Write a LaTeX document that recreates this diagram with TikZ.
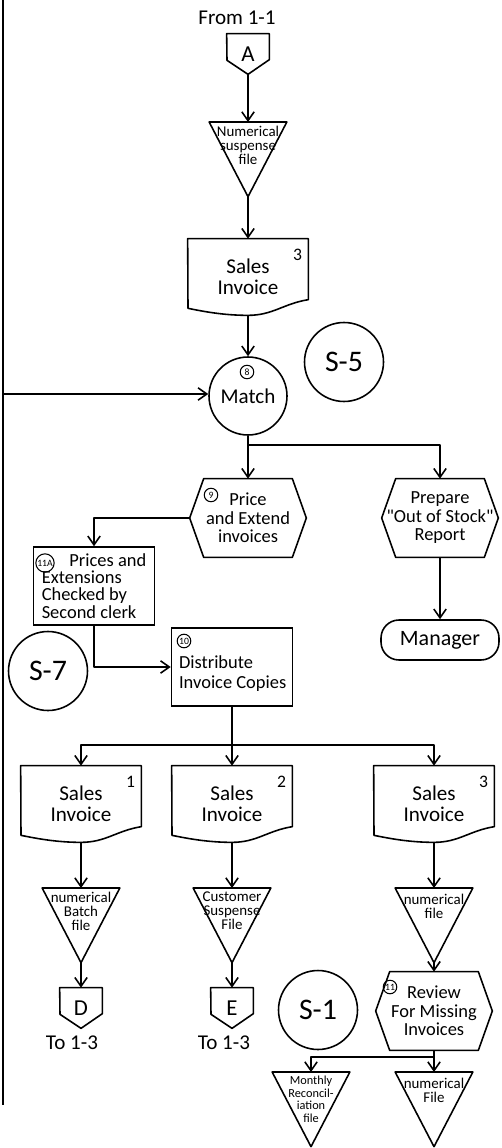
\documentclass[tikz,border=0pt]{standalone}
\usepackage{fontspec}
\setmainfont{Carlito}
\usetikzlibrary{arrows.meta, positioning}
\tikzset{
  flowline/.style  = {draw, line width=0.9pt, line join=round},
  flowarrow/.style = {flowline, -{Straight Barb[length=5pt, width=7pt]}},
  shapeline/.style = {draw, line width=0.9pt, line join=round},
  docbox/.style    = {minimum width=2.4cm, minimum height=1.52cm, inner sep=0pt,
                      align=center, font=\fontsize{12}{12}\selectfont},
  copyno/.style    = {font=\fontsize{10}{10}\selectfont, inner sep=0pt},
  hexbox/.style    = {minimum width=2.32cm, minimum height=1.56cm, inner sep=0pt,
                      align=center, font=\fontsize{10.5}{10.5}\selectfont},
  procbox/.style   = {draw, line width=0.9pt, minimum width=2.42cm,
                      minimum height=1.56cm, inner sep=1pt, align=left,
                      font=\fontsize{10.5}{9.8}\selectfont},
  proctext/.style  = {inner sep=0pt, align=left, font=\fontsize{10.5}{11.5}\selectfont},
  filetri/.style   = {minimum width=1.54cm, minimum height=1.48cm, inner sep=0pt},
  filetext/.style  = {font=\fontsize{8.5}{8}\selectfont, align=center, inner sep=0pt},
  offpage/.style   = {minimum width=0.84cm, minimum height=0.8cm, inner sep=0pt,
                      font=\fontsize{13}{13}\selectfont},
  matchcirc/.style = {circle, draw, line width=0.9pt, minimum size=1.56cm,
                      inner sep=0pt, font=\fontsize{12}{12}\selectfont},
  segcirc/.style   = {circle, draw, line width=0.9pt, minimum size=1.58cm,
                      inner sep=0pt, font=\fontsize{17}{17}\selectfont},
  stepnum/.style   = {circle, draw, line width=0.6pt, minimum size=0.27cm,
                      inner sep=0.4pt, font=\fontsize{5.5}{5.5}\selectfont},
  endterm/.style   = {draw, line width=0.9pt, rounded corners=0.36cm,
                      minimum width=2.36cm, minimum height=0.8cm,
                      font=\fontsize{12.5}{12.5}\selectfont},
  pagenote/.style  = {font=\fontsize{12}{12}\selectfont, inner sep=0pt},
}
\begin{document}
\begin{tikzpicture}[x=0.02cm, y=-0.02cm]
  \useasboundingbox (0,0) rectangle (501,1148);
  \coordinate (railtop) at (3,0);
  \coordinate (railbot) at (3,1105);
  \coordinate (feed) at (3,394);
  \draw[flowline] (railtop) -- (railbot);

  % from 1-1 down to the match
  \node[pagenote] (from) at (237,18) {From 1-1};
  \node[offpage] (pa) at (248,54) {A};
  \node[filetri, anchor=north] (nsf) at (248,122) {};
  \node[filetext, below=2pt of nsf.north] (nsft) {Numerical\\suspense\\file};
  \node[docbox] (sinv) at (248,277) {Sales\\Invoice};
  \node[copyno, below left=0.2cm and 0.12cm of sinv.north east] (sinvno) {3};
  \node[matchcirc] (match) at (248,396) {Match};
  \node[stepnum] (s8) at (247,372) {8};
  \node[segcirc] (s5) at (344,362) {S-5};

  % pricing and checking
  \coordinate (fork1) at (248,445);
  \node[hexbox] (price) at (248,518) {Price\\and Extend\\invoices};
  \node[stepnum] (s9) at (211,495) {9};
  \node[hexbox] (prep) at (440,518)
    {Prepare\\\textquotedbl Out of Stock\textquotedbl\\Report};
  \node[endterm] (mgr) at (440,640) {Manager};
  \node[procbox] (chk) at (94,586)
    {\hspace*{1.5em}Prices and\\Extensions\\Checked by\\Second clerk};
  \node[stepnum] (s11a) at (45,563) {11A};
  \node[segcirc] (s7) at (48,671) {S-7};
  \node[procbox] (dist) at (232,667) {};
  \node[proctext, below right=0.56cm and 0.16cm of dist.north west] (distt)
    {Distribute\\Invoice Copies};
  \node[stepnum] (s10) at (184,641) {10};

  % three copies
  \coordinate (fork2) at (232,745);
  \node[docbox] (sinva) at (81,804) {Sales\\Invoice};
  \node[docbox] (sinvb) at (232,804) {Sales\\Invoice};
  \node[docbox] (sinvc) at (434,804) {Sales\\Invoice};
  \node[copyno, below left=0.2cm and 0.12cm of sinva.north east] (sinvano) {1};
  \node[copyno, below left=0.2cm and 0.12cm of sinvb.north east] (sinvbno) {2};
  \node[copyno, below left=0.2cm and 0.12cm of sinvc.north east] (sinvcno) {3};
  \node[filetri, anchor=north] (nbf) at (81,888) {};
  \node[filetext, below=2pt of nbf.north] (nbft) {numerical\\Batch\\file};
  \node[filetri, anchor=north] (csf) at (232,888) {};
  \node[filetext, below=2pt of csf.north] (csft) {Customer\\Suspense\\File};
  \node[filetri, anchor=north] (nnf) at (434,888) {};
  \node[filetext, below=3pt of nnf.north] (nnft) {numerical\\file};
  \node[offpage] (pd) at (81,1008) {D};
  \node[offpage] (pe) at (232,1008) {E};
  \node[pagenote] (told) at (72,1043) {To 1-3};
  \node[pagenote] (tole) at (224,1043) {To 1-3};
  \node[segcirc] (s1) at (318,1010) {S-1};
  \node[hexbox] (review) at (434,1011) {Review\\For Missing\\Invoices};
  \node[stepnum] (s11) at (390,987) {11};
  \coordinate (fork3) at (434,1057);
  \node[filetri, anchor=north] (mrf) at (311,1072) {};
  \node[filetext, below=2pt of mrf.north, font=\fontsize{7}{7.2}\selectfont] (mrft)
    {Monthly\\Reconcil-\\iation\\file};
  \node[filetri, anchor=north] (nfl) at (434,1072) {};
  \node[filetext, below=3pt of nfl.north] (nflt) {numerical\\File};

  % outlines
  \foreach \doc in {sinv, sinva, sinvb, sinvc}
    \draw[shapeline] (\doc.north west) -- (\doc.north east) -- ++(0,61)
      .. controls +(-25,4) and +(25,0) .. (\doc.south)
      .. controls +(-25,0) and +(15,3) .. ++(-60,-7) -- cycle;
  \foreach \tri in {nsf, nbf, csf, nnf, mrf, nfl}
    \draw[shapeline] (\tri.north west) -- (\tri.north east) -- (\tri.south) -- cycle;
  \foreach \hex in {price, prep, review}
    \draw[shapeline] (\hex.west) -- ([xshift=0.28cm]\hex.north west)
      -- ([xshift=-0.28cm]\hex.north east) -- (\hex.east)
      -- ([xshift=-0.28cm]\hex.south east) -- ([xshift=0.28cm]\hex.south west) -- cycle;
  \foreach \pent in {pa, pd, pe}
    \draw[shapeline] (\pent.south) -- ++(-21,-14) -- (\pent.north west)
      -- (\pent.north east) -- ++(0,26) -- cycle;

  % flow
  \draw[flowarrow] (pa.south) -- (nsf.north);
  \draw[flowarrow] (nsf.south) -- (sinv.north);
  \draw[flowarrow] (sinv.south) -- (match.north);
  \draw[flowarrow] (feed) -- (feed -| match.west);
  \draw[flowarrow] (match.south) -- (price.north);
  \draw[flowarrow] (fork1) -| (prep.north);
  \draw[flowarrow] (prep.south) -- (mgr.north);
  \draw[flowarrow] (price.west) -| (chk.north);
  \draw[flowarrow] (chk.south) |- (dist.west);
  \draw[flowarrow] (dist.south) -- (sinvb.north);
  \draw[flowarrow] (fork2) -| (sinva.north);
  \draw[flowarrow] (fork2) -| (sinvc.north);
  \foreach \src/\dst in {sinva/nbf, sinvb/csf, sinvc/nnf, nbf/pd, csf/pe,
                         nnf/review, review/nfl}
    \draw[flowarrow] (\src.south) -- (\dst.north);
  \draw[flowarrow] (fork3) -| (mrf.north);
\end{tikzpicture}
\end{document}
